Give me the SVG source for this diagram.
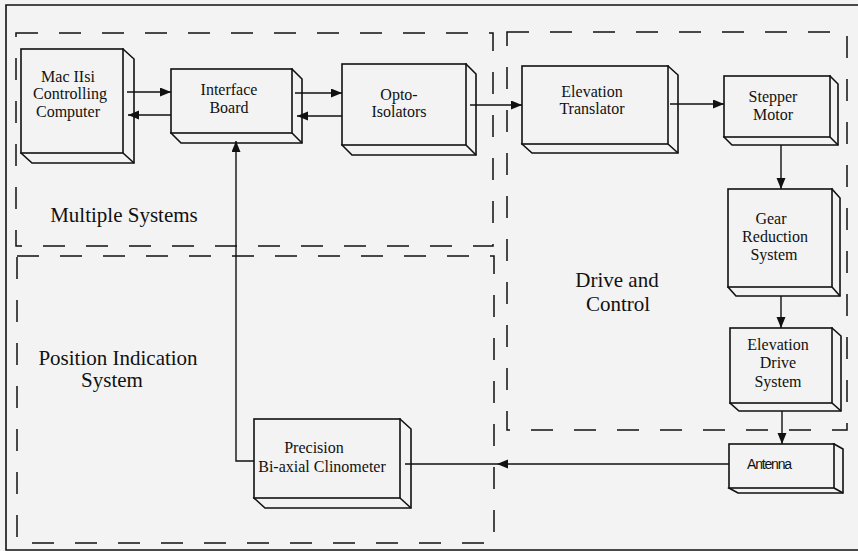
<svg xmlns="http://www.w3.org/2000/svg" width="858" height="551" viewBox="0 0 858 551">
<defs>
<marker id="ah" markerUnits="userSpaceOnUse" markerWidth="12" markerHeight="10" refX="11" refY="4.5" orient="auto">
<path d="M0,0 L11,4.5 L0,9 Z" fill="#111"/>
</marker>
<style>
.bx{fill:#f3f3f3;stroke:#111;stroke-width:1.6;stroke-linejoin:miter}
.t{font-family:"Liberation Serif","Times New Roman",serif;font-size:16px;fill:#111;text-anchor:middle}
.lbl{font-family:"Liberation Serif","Times New Roman",serif;font-size:21px;fill:#111;text-anchor:middle}
.sans{font-family:"Liberation Sans",Arial,sans-serif;font-size:14px;fill:#111;text-anchor:middle;letter-spacing:-1.2px}
.reg{fill:none;stroke:#111;stroke-width:1.5;stroke-dasharray:22 21}
.c{fill:none;stroke:#111;stroke-width:1.4}
</style>
</defs>
<rect x="0" y="0" width="858" height="551" fill="#f3f3f3"/>
<path d="M858 5 H6 V550 H858" fill="none" stroke="#111" stroke-width="1.6"/>

<g id="regions">
<rect class="reg" x="16" y="33" width="477" height="213"/>
<rect class="reg" x="17" y="256" width="477" height="287"/>
<rect class="reg" x="507" y="32" width="340" height="398"/>
<text class="lbl" x="124" y="222">Multiple Systems</text>
<text class="lbl" x="118" y="365">Position Indication</text>
<text class="lbl" x="112" y="387">System</text>
<text class="lbl" x="617" y="287">Drive and</text>
<text class="lbl" x="618" y="311">Control</text>
</g>

<g id="mac">
<path class="bx" d="M123 49 L134 59 V163 H32 L21 153 Z"/>
<path class="bx" d="M123 153 L134 163"/>
<rect class="bx" x="21" y="49" width="102" height="104"/>
<text class="t" x="68" y="82">Mac IIsi</text>
<text class="t" x="70" y="99">Controlling</text>
<text class="t" x="68" y="117">Computer</text>
</g>

<g id="interface">
<path class="bx" d="M292 69 L302 79 V143 H181 L171 133 Z"/>
<path class="bx" d="M292 133 L302 143"/>
<rect class="bx" x="171" y="69" width="121" height="64"/>
<text class="t" x="229" y="95">Interface</text>
<text class="t" x="229" y="113">Board</text>
</g>

<g id="opto">
<path class="bx" d="M466 64 L476 74 V155 H352 L342 145 Z"/>
<path class="bx" d="M466 145 L476 155"/>
<rect class="bx" x="342" y="64" width="124" height="81"/>
<text class="t" x="399" y="100">Opto-</text>
<text class="t" x="399" y="117">Isolators</text>
</g>

<g id="elevtrans">
<path class="bx" d="M668 66 L678 75 V153 H532 L522 144 Z"/>
<path class="bx" d="M668 144 L678 153"/>
<rect class="bx" x="522" y="66" width="146" height="78"/>
<text class="t" x="592" y="97">Elevation</text>
<text class="t" x="592" y="114">Translator</text>
</g>

<g id="stepper">
<path class="bx" d="M830 76 L838 84 V145 H732 L724 137 Z"/>
<path class="bx" d="M830 137 L838 145"/>
<rect class="bx" x="724" y="76" width="106" height="61"/>
<text class="t" x="773" y="102">Stepper</text>
<text class="t" x="773" y="120">Motor</text>
</g>

<g id="gear">
<path class="bx" d="M832 189 L840 198 V296 H736 L728 287 Z"/>
<path class="bx" d="M832 287 L840 296"/>
<rect class="bx" x="728" y="189" width="104" height="98"/>
<text class="t" x="771" y="224">Gear</text>
<text class="t" x="775" y="242">Reduction</text>
<text class="t" x="774" y="260">System</text>
</g>

<g id="elevdrive">
<path class="bx" d="M832 328 L841 336 V411 H739 L730 403 Z"/>
<path class="bx" d="M832 403 L841 411"/>
<rect class="bx" x="730" y="328" width="102" height="75"/>
<text class="t" x="778" y="350">Elevation</text>
<text class="t" x="778" y="368">Drive</text>
<text class="t" x="778" y="387">System</text>
</g>

<g id="antenna">
<path class="bx" d="M834 444 L843 449 V493 H738 L729 488 Z"/>
<path class="bx" d="M834 488 L843 493"/>
<rect class="bx" x="729" y="444" width="105" height="44"/>
<text class="sans" x="769" y="469">Antenna</text>
</g>

<g id="clinometer">
<path class="bx" d="M400 419 L411 429 V508 H265 L254 498 Z"/>
<path class="bx" d="M400 498 L411 508"/>
<rect class="bx" x="254" y="419" width="146" height="79"/>
<text class="t" x="314" y="453">Precision</text>
<text class="t" x="322" y="472">Bi-axial Clinometer</text>
</g>

<g id="connectors">
<path class="c" d="M127 92 H171" marker-end="url(#ah)"/>
<path class="c" d="M171 115 H128" marker-end="url(#ah)"/>
<path class="c" d="M295 93 H342" marker-end="url(#ah)"/>
<path class="c" d="M342 116 H297" marker-end="url(#ah)"/>
<path class="c" d="M470 105 H522" marker-end="url(#ah)"/>
<path class="c" d="M670 104 H724" marker-end="url(#ah)"/>
<path class="c" d="M781 145 V189" marker-end="url(#ah)"/>
<path class="c" d="M781 296 V328" marker-end="url(#ah)"/>
<path class="c" d="M782 411 V444" marker-end="url(#ah)"/>
<path class="c" d="M729 464 H497" marker-end="url(#ah)"/>
<path class="c" d="M497 464 H405"/>
<path class="c" d="M254 461 H236 V141" marker-end="url(#ah)"/>
</g>
</svg>
